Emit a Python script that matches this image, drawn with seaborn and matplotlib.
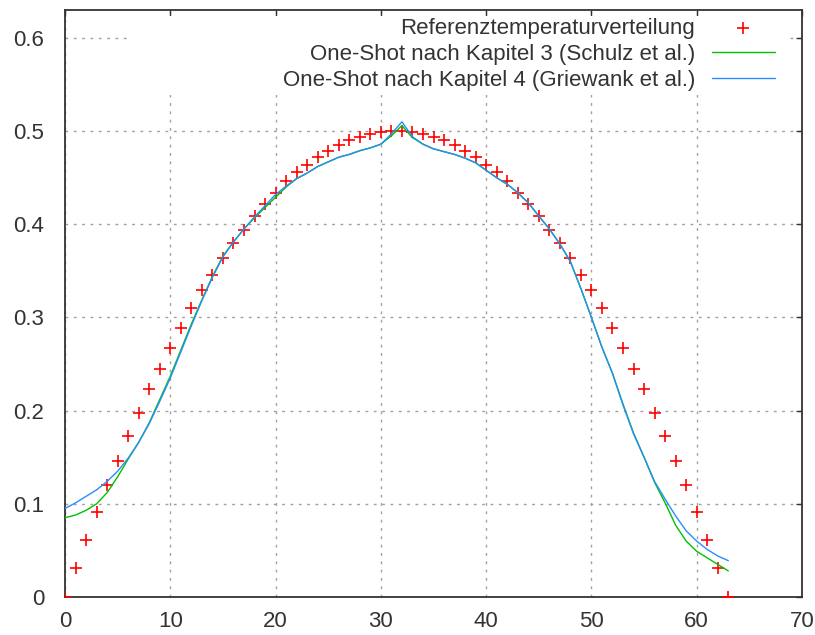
import matplotlib
matplotlib.use("Agg")
import matplotlib.pyplot as plt
import matplotlib.patches as mpatches
import seaborn as sns
import pandas as pd

# ---------------- data ----------------
x_ref = list(range(64))
ref_vals = [0.000, 0.031, 0.061, 0.091, 0.120, 0.146, 0.173, 0.197, 0.223, 0.245,
            0.2675, 0.289, 0.310, 0.329, 0.346, 0.364, 0.380, 0.394, 0.409, 0.422,
            0.434, 0.446, 0.456, 0.464, 0.4725, 0.479, 0.485, 0.490, 0.494, 0.497,
            0.499, 0.500,
            0.500, 0.499, 0.497, 0.494, 0.490, 0.485, 0.479, 0.4725, 0.464, 0.456,
            0.446, 0.434, 0.422, 0.409, 0.394, 0.380, 0.364, 0.346, 0.329, 0.310,
            0.289, 0.2675, 0.245, 0.223, 0.197, 0.173, 0.146, 0.120, 0.091, 0.061,
            0.031, 0.000]

x_line = list(range(64))
schulz_vals = [0.085, 0.088, 0.093, 0.100, 0.112, 0.129, 0.148, 0.166, 0.187, 0.212,
               0.237, 0.265, 0.293, 0.319, 0.344, 0.366, 0.381, 0.395, 0.407, 0.418,
               0.429, 0.440, 0.449, 0.455, 0.462, 0.467, 0.472, 0.475, 0.479, 0.482,
               0.486, 0.495, 0.506, 0.493, 0.486, 0.481, 0.478, 0.475, 0.471, 0.466,
               0.458, 0.450, 0.443, 0.434, 0.423, 0.409, 0.395, 0.379, 0.360, 0.331,
               0.300, 0.268, 0.240, 0.207, 0.176, 0.150, 0.123, 0.101, 0.077, 0.060,
               0.049, 0.042, 0.035, 0.028]
griewank_vals = [0.095, 0.101, 0.108, 0.115, 0.124, 0.135, 0.149, 0.166, 0.186, 0.210,
                 0.235, 0.263, 0.291, 0.318, 0.343, 0.365, 0.381, 0.395, 0.408, 0.420,
                 0.432, 0.441, 0.449, 0.455, 0.462, 0.467, 0.472, 0.475, 0.479, 0.482,
                 0.486, 0.497, 0.510, 0.494, 0.486, 0.481, 0.478, 0.475, 0.471, 0.466,
                 0.458, 0.450, 0.443, 0.434, 0.423, 0.409, 0.395, 0.379, 0.360, 0.331,
                 0.300, 0.268, 0.240, 0.206, 0.175, 0.150, 0.124, 0.105, 0.087, 0.071,
                 0.060, 0.051, 0.044, 0.039]

labels = ["Referenztemperaturverteilung",
          "One-Shot nach Kapitel 3 (Schulz et al.)",
          "One-Shot nach Kapitel 4 (Griewank et al.)"]
x_ticks = [0, 10, 20, 30, 40, 50, 60, 70]
x_ticklabels = ["0", "10", "20", "30", "40", "50", "60", "70"]
y_ticks = [0, 0.1, 0.2, 0.3, 0.4, 0.5, 0.6]
y_ticklabels = ["0", "0.1", "0.2", "0.3", "0.4", "0.5", "0.6"]

# ---------------- style ----------------
sns.set_theme(style="white")
plt.rcParams["font.family"] = ["Liberation Sans", "DejaVu Sans"]

W, H = 815, 635
fig = plt.figure(figsize=(W / 100, H / 100), dpi=100)
L, R, T, B = 65, 802, 10, 597
ax = fig.add_axes([L / W, 1 - B / H, (R - L) / W, (B - T) / H])

df_ref = pd.DataFrame({"x": x_ref, "y": ref_vals})
df_s = pd.DataFrame({"x": x_line, "y": schulz_vals})
df_g = pd.DataFrame({"x": x_line, "y": griewank_vals})

sns.scatterplot(data=df_ref, x="x", y="y", ax=ax, color="#ff0000",
                marker="+", s=70, linewidth=1.2, label=labels[0], zorder=3)
sns.lineplot(data=df_s, x="x", y="y", ax=ax, color="#00c000", linewidth=1.0,
             label=labels[1], errorbar=None, zorder=4)
sns.lineplot(data=df_g, x="x", y="y", ax=ax, color="#2b8cff", linewidth=1.0,
             label=labels[2], errorbar=None, zorder=5)

ax.set_xlim(0, 70)
ax.set_ylim(0, 0.63)
ax.set_xticks(x_ticks)
ax.set_xticklabels(x_ticklabels)
ax.set_yticks(y_ticks)
ax.set_yticklabels(y_ticklabels)
ax.set_xlabel("")
ax.set_ylabel("")

ax.grid(True, color="#a0a0a0", linestyle=(0, (2, 4)), linewidth=1.0)
ax.set_axisbelow(True)
for s in ax.spines.values():
    s.set_color("#333333")
    s.set_linewidth(1.3)
FS = 16
ax.tick_params(axis="both", direction="in", length=4, width=1.0, color="#333333",
               labelsize=FS, labelcolor="#333333", top=True, right=True,
               labeltop=False, labelright=False)
ax.tick_params(axis="y", pad=15)
ax.tick_params(axis="x", pad=10)

# white key box covering grid lines (gnuplot style)
cover = mpatches.Rectangle((0.088, 0.855), 0.893, 0.135, transform=ax.transAxes,
                           facecolor="white", edgecolor="none", zorder=1)
ax.add_patch(cover)

leg = ax.legend(loc="upper right", bbox_to_anchor=((775 - L) / (R - L), 0.986),
                frameon=False, fontsize=FS, markerfirst=False,
                handlelength=2.85, handletextpad=0.75, labelspacing=0.22,
                borderpad=0, borderaxespad=0)
for t in leg.get_texts():
    t.set_color("#333333")
leg.set_zorder(6)

fig.savefig("out.png", dpi=100, facecolor="white")
